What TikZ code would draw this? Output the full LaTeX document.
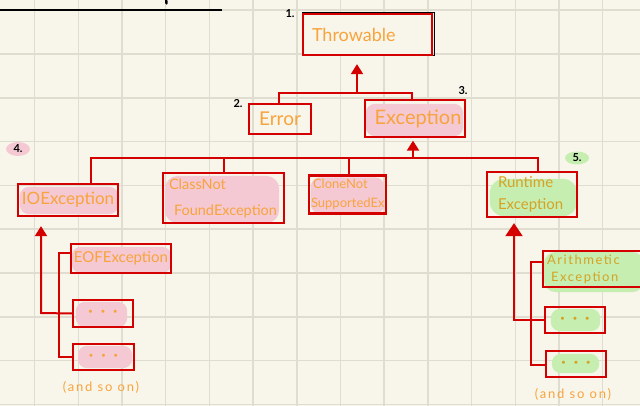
\documentclass[tikz,border=0pt]{standalone}
\usepackage{fontspec}
\setmainfont{Lato}
\usetikzlibrary{arrows.meta}
\definecolor{paper}{RGB}{248,246,234}
\definecolor{gridc}{RGB}{223,220,208}
\definecolor{boxred}{RGB}{212,0,0}
\definecolor{txtor}{RGB}{248,163,60}
\definecolor{txtgold}{RGB}{214,162,36}
\definecolor{pinkhl}{RGB}{244,201,211}
\definecolor{greenhl}{RGB}{197,238,176}
\pgfdeclarelayer{gridlayer}
\pgfdeclarelayer{hllayer}
\pgfsetlayers{gridlayer,hllayer,main}
\tikzset{
  box/.style={draw=boxred, line width=2.3pt, inner ysep=0pt, text=txtor},
  conn/.style={draw=boxred, line width=2pt},
  tipS/.style={-{Triangle[width=12pt,length=10pt]}},
  tipL/.style={-{Triangle[width=17pt,length=13pt]}},
  num/.style={text=black, font=\bfseries\fontsize{11}{12}\selectfont, inner sep=0pt},
  pinkfill/.style={fill=pinkhl, rounded corners=9pt},
  greenfill/.style={fill=greenhl, rounded corners=9pt},
  dots/.style={font=\bfseries\fontsize{16}{16}\selectfont}
}
\begin{document}
\begin{tikzpicture}[x=1pt,y=-1pt]
\clip (0,0) rectangle (640,406);
\begin{pgfonlayer}{gridlayer}
  \fill[paper] (0,0) rectangle (640,406);
  \foreach \k in {0,...,13} {\draw[gridc, line width=1.5pt] ({34.6+43.7*\k},0) -- ({34.6+43.7*\k},406);}
  \foreach \k in {0,...,9} {\draw[gridc, line width=1.5pt] (0,{10.2+43.8*\k}) -- (640,{10.2+43.8*\k});}
\end{pgfonlayer}

% top line
\draw[black, line width=2.2pt] (0,10) -- (222,10);
\draw[black, line width=2.4pt, line cap=round] (166,-2) -- (166.5,3.5);

% level 1
\draw[black, line width=1.8pt] (303,12.5) rectangle (434.5,55.5);
\node[box, minimum height=41pt, text width=111pt, inner xsep=9pt, align=left,
      font=\fontsize{18}{20}\selectfont, fill=paper] (thr) at (367.5,34.5) {Throwable};
\node[num] (n1) at (290,14) {1.};

% level 2
\node[box, minimum width=62pt, minimum height=30pt, inner xsep=0pt,
      font=\fontsize{19}{20}\selectfont] (err) at (280,119) {Error};
\node[box, minimum width=100pt, minimum height=37pt, inner xsep=0pt,
      font=\fontsize{20}{22}\selectfont] (exc) at (415,118.5) {\hspace{6pt}Exception};
\node[num] (n2) at (238,104) {2.};
\node[num] (n3) at (463,91) {3.};

% level 3
\node[box, minimum width=100pt, minimum height=32pt, inner xsep=0pt,
      font=\fontsize{17}{18}\selectfont] (io) at (68,200) {IOException};
\node[box, minimum height=50pt, text width=117pt, inner xsep=2pt, align=left,
      font=\fontsize{14.5}{26}\selectfont] (cnf) at (223.5,198) {\hspace{4pt}ClassNot\\\hspace{9pt}FoundException};
\node[box, minimum height=38pt, text width=73pt, inner xsep=2pt, align=left,
      font=\fontsize{13}{19}\selectfont] (cns) at (347.5,194.5) {\hspace{2pt}CloneNot\\SupportedEx};
\node[box, minimum height=45pt, text width=68pt, inner xsep=11pt, align=left, text=txtgold,
      font=\fontsize{15}{22}\selectfont] (rt) at (532,194.5) {Runtime\\Exception};
\node[num] (n4) at (18,149) {4.};
\node[num] (n5) at (577,158) {5.};

% level 4 left
\node[box, minimum width=100pt, minimum height=29pt, inner xsep=0pt,
      font=\fontsize{15}{16}\selectfont] (eof) at (121,258.5) {EOFException};
\node[box, minimum width=60pt, minimum height=27pt, inner xsep=0pt, dots] (d1) at (103,313.5) {·\hspace{8pt}·\hspace{8pt}·};
\node[box, minimum width=61pt, minimum height=26pt, inner xsep=0pt, dots] (d2) at (103.5,357) {·\hspace{8pt}·\hspace{8pt}·};
\node[text=txtor, font=\fontsize{13}{14}\selectfont\addfontfeature{LetterSpace=14}, inner sep=0pt] (aso1) at (101,387) {(and so on)};

% level 4 right
\node[box, minimum height=36pt, text width=94pt, inner xsep=4pt, align=left, text=txtgold,
      font=\fontsize{13}{17}\selectfont\addfontfeature{LetterSpace=12}] (ar) at (594,269) {Arithmetic\\\hspace{4pt}Exception};
\node[box, minimum width=60pt, minimum height=26pt, inner xsep=0pt, dots, text=txtgold] (d3) at (575,320) {·\hspace{8pt}·\hspace{8pt}·};
\node[box, minimum width=60pt, minimum height=26pt, inner xsep=0pt, dots, text=txtgold] (d4) at (576,364) {·\hspace{8pt}·\hspace{8pt}·};
\node[text=txtor, font=\fontsize{13}{14}\selectfont\addfontfeature{LetterSpace=14}, inner sep=0pt] (aso2) at (573,394) {(and so on)};

% highlights
\begin{pgfonlayer}{hllayer}
  \fill[pinkfill] ([shift={(2,5)}]exc.north west) rectangle ([shift={(-3,-2)}]exc.south east);
  \fill[pinkfill] ([shift={(3,4)}]io.north west) rectangle ([shift={(-1,-3)}]io.south east);
  \fill[pinkfill, rounded corners=13pt] ([shift={(3,4)}]cnf.north west) rectangle ([shift={(-6,-1)}]cnf.south east);
  \fill[pinkfill] ([shift={(3,3)}]cns.north west) rectangle ([shift={(-3,-1)}]cns.south east);
  \fill[pinkfill] ([shift={(2,4)}]eof.north west) rectangle ([shift={(-1,-1)}]eof.south east);
  \fill[pinkfill] ([shift={(4,3)}]d1.north west) rectangle ([shift={(-7,-1)}]d1.south east);
  \fill[pinkfill] ([shift={(6,3)}]d2.north west) rectangle ([shift={(-3,-3)}]d2.south east);
  \fill[greenfill, rounded corners=14pt] ([shift={(4,8)}]rt.north west) rectangle ([shift={(-1,-2)}]rt.south east);
  \fill[greenfill, rounded corners=12pt] ([shift={(2,2)}]ar.north west) rectangle ([shift={(-2,4)}]ar.south east);
  \fill[greenfill] ([shift={(7,3)}]d3.north west) rectangle ([shift={(-6,-3)}]d3.south east);
  \fill[greenfill] ([shift={(7,4)}]d4.north west) rectangle ([shift={(-8,-5)}]d4.south east);
  \fill[pinkhl] (n4) ellipse [x radius=12, y radius=7];
  \fill[greenhl] (n5) ellipse [x radius=12, y radius=6.5];
\end{pgfonlayer}

% connectors
\coordinate (tj) at (357,93);
\draw[conn, tipS, shorten >=8pt] (tj) -- (tj |- thr.south);
\draw[conn] ([xshift=-1pt]err.north) |- (tj) -| ([xshift=-3pt]exc.north);

\coordinate (ej) at (413,158);
\draw[conn, tipS, shorten >=2.5pt] (ej) -- (ej |- exc.south);
\draw[conn] ([xshift=23pt]io.north) |- (ej) -| ([xshift=6pt]rt.north);
\draw[conn] (cnf.north) -- (cnf.north |- ej);
\draw[conn] ([xshift=1.5pt]cns.north) -- ([xshift=1.5pt]cns.north |- ej);

\coordinate (lb) at (41,313);
\draw[conn, tipS, shorten >=9pt] (d1.west) -- (lb) -- (lb |- io.south);
\coordinate (lv1) at (59,253);
\coordinate (lv2) at (59,357);
\draw[conn] (eof.west |- lv1) -- (lv1) -- (lv2) -- (d2.west);

\coordinate (rb) at (514,320);
\draw[conn, tipL, shorten >=5pt] (d3.west) -- (rb) -- (rb |- rt.south);
\coordinate (rv1) at (531,262);
\coordinate (rv2) at (531,365);
\draw[conn] (ar.west |- rv1) -- (rv1) -- (rv2) -- (d4.west |- rv2);
\end{tikzpicture}
\end{document}
